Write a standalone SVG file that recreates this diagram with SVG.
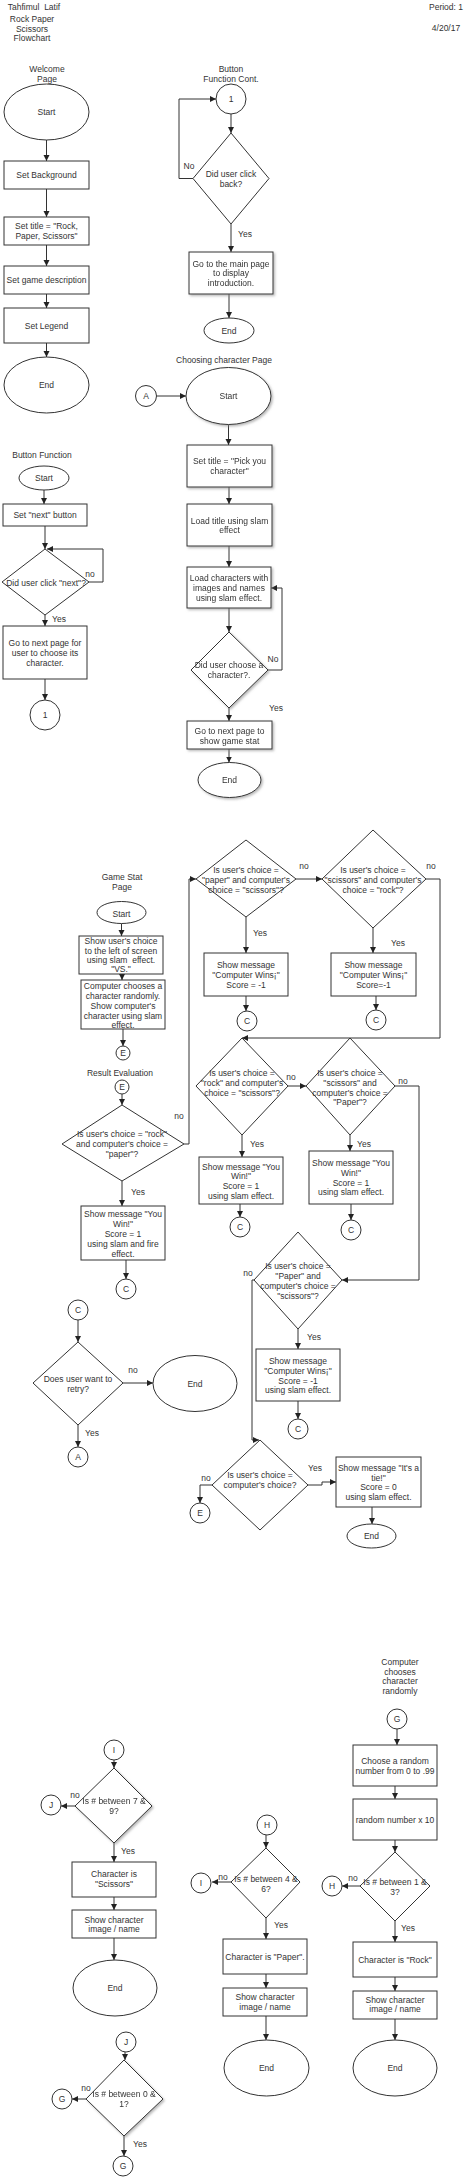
<svg xmlns="http://www.w3.org/2000/svg" width="474" height="2177" viewBox="0 0 474 2177">
<style>
text{font-family:"Liberation Sans",Arial,sans-serif;font-size:8.5px;fill:#333;text-anchor:middle;dominant-baseline:central;white-space:pre}
rect,ellipse,circle,polygon{fill:#fff;stroke:#333;stroke-width:1}
.sh{filter:url(#sh)}
.c path{fill:none;stroke:#333;stroke-width:1;marker-end:url(#ah)}
.c path.nm{marker-end:none}
</style>
<defs>
<marker id="ah" markerUnits="userSpaceOnUse" markerWidth="7" markerHeight="7" refX="6" refY="3" orient="auto"><path d="M0,0 L6,3 L0,6 z" fill="#222"/></marker>
<filter id="sh" x="-10%" y="-10%" width="130%" height="130%"><feDropShadow dx="1.5" dy="1.5" stdDeviation="0.8" flood-color="#888" flood-opacity="0.6"/></filter>
</defs>
<rect width="474" height="2177" style="fill:#fff;stroke:none"/>

<g id="header">
<text x="34" y="7">Tahfimul  Latif</text>
<text x="32" y="19">Rock Paper</text>
<text x="32" y="29">Scissors</text>
<text x="32" y="38">Flowchart</text>
<text x="446" y="7">Period: 1</text>
<text x="446" y="28">4/20/17</text>
</g>

<g id="titles">
<text x="47" y="69">Welcome</text><text x="47" y="79">Page</text>
<text x="231" y="69">Button</text><text x="231" y="79">Function Cont.</text>
<text x="224" y="360">Choosing character Page</text>
<text x="42" y="455">Button Function</text>
<text x="122" y="877">Game Stat</text><text x="122" y="887">Page</text>
<text x="120" y="1073">Result Evaluation</text>
<text x="400" y="1662">Computer</text><text x="400" y="1672">chooses</text><text x="400" y="1681">character</text><text x="400" y="1691">randomly</text>
</g>

<g class="c" id="connectors">
<path d="M46.5,140 V161"/><path d="M46.5,189 V217"/><path d="M46.5,245 V266"/><path d="M46.5,294 V308"/><path d="M46.5,343 V357"/>
<path d="M231,114 V133"/><path d="M193,178.5 H179 V99 H216"/><path d="M231,224 V252"/><path d="M229,294 V318"/>
<path d="M156.5,396 H186"/><path d="M228.5,424.5 V445"/><path d="M229,487 V504"/><path d="M229,546 V567"/><path d="M229,608 V632"/><path d="M268,670 H282 V588 H271"/><path d="M229,708 V721"/><path d="M229,749 V762.5"/>
<path d="M44,490 V504"/><path d="M45,526 V549"/><path d="M89,582 H103 V549 H47"/><path d="M45,615 V626"/><path d="M45,679 V700"/>
<path d="M121.5,923.5 V936"/><path d="M122,974 V980"/><path d="M123,1029 V1046"/><path d="M122,1094 V1105"/><path d="M122,1181 V1206"/><path d="M126,1260 V1279"/>
<path d="M184,1144 H189 V879 H196"/>
<path d="M296,879 H322"/><path d="M426,879 H440 V1038 H242"/>
<path d="M246,917 V953"/><path d="M246,996 V1011"/><path d="M373,928 V953"/><path d="M376,996 V1010"/>
<path d="M288,1086 H306"/><path d="M395,1086 H419 V1280 H342"/>
<path d="M242,1135 V1157"/><path d="M240,1204 V1217"/><path d="M350,1135 V1151"/><path d="M351,1204 V1220"/>
<path d="M298,1329 V1349"/><path d="M298,1401 V1419"/><path d="M254,1280 H252 V1440 H259"/>
<path d="M212,1485 H200 V1503"/><path d="M308,1485 H322 V1482 H336"/><path d="M372,1507 V1524"/>
<path d="M78,1320 V1342"/><path d="M123,1383 H153"/><path d="M78,1425 V1447"/>
<path d="M397,1729 V1745"/><path d="M395,1786 V1799"/><path d="M395,1840 V1852"/><path d="M360,1886 H342"/><path d="M395,1921 V1942"/><path d="M395,1977 V1991"/><path d="M395,2019 V2040"/>
<path d="M266,1835 V1848"/><path d="M231,1882 H212"/><path d="M266,1918 V1939"/><path d="M266,1974 V1988"/><path d="M266,2016 V2040"/>
<path d="M114,1760 V1768"/><path d="M75,1806 H61"/><path d="M114,1843 V1862"/><path d="M114,1897 V1910"/><path d="M114,1938 V1960"/>
<path d="M125,2052 V2060"/><path d="M86,2099 H72"/><path d="M124,2136 V2156"/>
</g>

<g id="edge-labels">
<text x="189" y="166">No</text><text x="245" y="234">Yes</text>
<text x="273" y="659">No</text><text x="276" y="708">Yes</text>
<text x="90" y="574">no</text><text x="59" y="619">Yes</text>
<text x="138" y="1192">Yes</text><text x="179" y="1116">no</text>
<text x="304" y="866">no</text><text x="431" y="866">no</text>
<text x="260" y="933">Yes</text><text x="398" y="943">Yes</text>
<text x="291" y="1077">no</text><text x="403" y="1081">no</text>
<text x="257" y="1144">Yes</text><text x="364" y="1144">Yes</text>
<text x="314" y="1337">Yes</text><text x="248" y="1273">no</text>
<text x="206" y="1478">no</text><text x="315" y="1468">Yes</text>
<text x="133" y="1370">no</text><text x="92" y="1433">Yes</text>
<text x="353" y="1878">no</text><text x="408" y="1928">Yes</text>
<text x="223" y="1877">no</text><text x="281" y="1925">Yes</text>
<text x="75" y="1795">no</text><text x="128" y="1851">Yes</text>
<text x="86" y="2088">no</text><text x="140" y="2144">Yes</text>
</g>

<g id="welcome-start"><ellipse cx="46.5" cy="112" rx="42.5" ry="28"/><text x="46.5" y="112">Start</text></g>
<g id="set-background"><rect x="4" y="161" width="85" height="28"/><text x="46.5" y="175">Set Background</text></g>
<g id="set-title"><rect x="4" y="217" width="85" height="28"/><text x="46.5" y="226">Set title = "Rock,</text><text x="46.5" y="236">Paper, Scissors"</text></g>
<g id="set-desc"><rect x="4" y="266" width="85" height="28"/><text x="46.5" y="280">Set game description</text></g>
<g id="set-legend"><rect x="4" y="308" width="85" height="35"/><text x="46.5" y="326">Set Legend</text></g>
<g id="welcome-end"><ellipse cx="46.5" cy="385" rx="42.5" ry="28"/><text x="46.5" y="385">End</text></g>

<g id="bfc-1"><circle cx="231" cy="99" r="15"/><text x="231" y="99">1</text></g>
<g id="bfc-dec"><polygon points="231,133 269,178.5 231,224 193,178.5"/><text x="231" y="174">Did user click</text><text x="231" y="184">back?</text></g>
<g id="bfc-main" class="sh"><rect x="189" y="252" width="84" height="42"/><text x="231" y="264">Go to the main page</text><text x="231" y="273">to display</text><text x="231" y="283">introduction.</text></g>
<g id="bfc-end"><ellipse cx="229" cy="330.5" rx="25" ry="12.5"/><text x="229" y="330.5">End</text></g>

<g id="cc-a"><circle cx="146" cy="396" r="10.5"/><text x="146" y="396">A</text></g>
<g id="cc-start" class="sh"><ellipse cx="228.5" cy="396" rx="42.5" ry="28.5"/><text x="228.5" y="396">Start</text></g>
<g id="cc-title" class="sh"><rect x="187" y="445" width="85" height="42"/><text x="229.5" y="461">Set title = "Pick you</text><text x="229.5" y="471">character"</text></g>
<g id="cc-load" class="sh"><rect x="187" y="504" width="85" height="42"/><text x="229.5" y="521">Load title using slam</text><text x="229.5" y="530">effect</text></g>
<g id="cc-chars" class="sh"><rect x="187" y="567" width="84" height="41"/><text x="229" y="578">Load characters with</text><text x="229" y="588">images and names</text><text x="229" y="598">using slam effect.</text></g>
<g id="cc-dec" class="sh"><polygon points="229,632 268,670 229,708 191,670"/><text x="229" y="665">Did user choose a</text><text x="229" y="675">character?.</text></g>
<g id="cc-next" class="sh"><rect x="187" y="721" width="85" height="28"/><text x="229.5" y="731">Go to next page to</text><text x="229.5" y="741">show game stat</text></g>
<g id="cc-end" class="sh"><ellipse cx="229.5" cy="780" rx="31.5" ry="17.5"/><text x="229.5" y="780">End</text></g>

<g id="bf-start"><ellipse cx="44" cy="478" rx="25" ry="12"/><text x="44" y="478">Start</text></g>
<g id="bf-set"><rect x="3" y="504" width="84" height="22"/><text x="45" y="515">Set "next" button</text></g>
<g id="bf-dec"><polygon points="45,549 89,582 45,615 2,582"/><text x="46" y="583">Did user click "next"?</text></g>
<g id="bf-next"><rect x="3" y="626" width="84" height="53"/><text x="45" y="643">Go to next page for</text><text x="45" y="653">user to choose its</text><text x="45" y="663">character.</text></g>
<g id="bf-1"><circle cx="45" cy="715" r="15"/><text x="45" y="715">1</text></g>

<g id="gs-start"><ellipse cx="121.5" cy="912.5" rx="24.5" ry="11"/><text x="121.5" y="914">Start</text></g>
<g id="gs-user"><rect x="79" y="936" width="84" height="38"/><text x="121" y="941">Show user's choice</text><text x="121" y="951">to the left of screen</text><text x="121" y="960">using slam  effect.</text><text x="121" y="969">"VS."</text></g>
<g id="gs-comp"><rect x="81" y="980" width="84" height="49"/><text x="123" y="986">Computer chooses a</text><text x="123" y="996">character randomly.</text><text x="123" y="1006">Show computer's</text><text x="123" y="1016">character using slam</text><text x="123" y="1025">effect.</text></g>
<g id="gs-e1"><circle cx="123" cy="1053" r="7"/><text x="123" y="1053">E</text></g>
<g id="re-e"><circle cx="122" cy="1087" r="7"/><text x="122" y="1087">E</text></g>
<g id="re-rock"><polygon points="122,1105 184,1144 122,1181 62,1144"/><text x="122" y="1134">Is user's choice = "rock"</text><text x="122" y="1144">and computer's choice =</text><text x="122" y="1154">"paper"?</text></g>
<g id="re-rock-win"><rect x="81" y="1206" width="84" height="54"/><text x="123" y="1214">Show message "You</text><text x="123" y="1224">Win!"</text><text x="123" y="1234">Score = 1</text><text x="123" y="1244">using slam and fire</text><text x="123" y="1254">effect.</text></g>
<g id="re-c1"><circle cx="126" cy="1289" r="10"/><text x="126" y="1289">C</text></g>

<g id="re-paper"><polygon points="246,840 296,879 246,917 196,879"/><text x="246" y="870">Is user's choice =</text><text x="246" y="880">"paper" and computer's</text><text x="246" y="890">choice = "scissors"?</text></g>
<g id="re-scis"><polygon points="373,830 426,879 373,928 322,879"/><text x="373" y="870">Is user's choice =</text><text x="373" y="880">"scissors" and computer's</text><text x="373" y="890">choice = "rock"?</text></g>
<g id="re-paper-lose"><rect x="204" y="953" width="84" height="43"/><text x="246" y="965">Show message</text><text x="246" y="975">"Computer Wins¡"</text><text x="246" y="985">Score = -1</text></g>
<g id="re-c2"><circle cx="247" cy="1021" r="10"/><text x="247" y="1021">C</text></g>
<g id="re-scis-lose"><rect x="331" y="953" width="85" height="43"/><text x="373.5" y="965">Show message</text><text x="373.5" y="975">"Computer Wins¡"</text><text x="373.5" y="985">Score=-1</text></g>
<g id="re-c3"><circle cx="376" cy="1020" r="10"/><text x="376" y="1020">C</text></g>

<g id="re-rock2"><polygon points="242,1038 288,1086 242,1135 196,1086"/><text x="242" y="1073">Is user's choice =</text><text x="242" y="1083">"rock" and computer's</text><text x="242" y="1093">choice = "scissors"?</text></g>
<g id="re-scis2"><polygon points="350,1038 395,1086 350,1135 306,1086"/><text x="350" y="1073">Is user's choice =</text><text x="350" y="1083">"scissors" and</text><text x="350" y="1093">computer's choice =</text><text x="350" y="1102">"Paper"?</text></g>
<g id="re-rock2-win"><rect x="199" y="1157" width="84" height="47"/><text x="241" y="1167">Show message "You</text><text x="241" y="1176">Win!"</text><text x="241" y="1186">Score = 1</text><text x="241" y="1196">using slam effect.</text></g>
<g id="re-c4"><circle cx="240" cy="1227" r="10"/><text x="240" y="1227">C</text></g>
<g id="re-scis2-win"><rect x="309" y="1151" width="84" height="53"/><text x="351" y="1163">Show message "You</text><text x="351" y="1173">Win!"</text><text x="351" y="1183">Score = 1</text><text x="351" y="1192">using slam effect.</text></g>
<g id="re-c5"><circle cx="351" cy="1230" r="10"/><text x="351" y="1230">C</text></g>

<g id="re-paper2"><polygon points="298,1232 342,1280 298,1329 254,1280"/><text x="298" y="1266">Is user's choice =</text><text x="298" y="1276">"Paper" and</text><text x="298" y="1286">computer's choice =</text><text x="298" y="1296">"scissors"?</text></g>
<g id="re-paper2-lose"><rect x="256" y="1349" width="84" height="52"/><text x="298" y="1361">Show message</text><text x="298" y="1371">"Computer Wins¡"</text><text x="298" y="1381">Score = -1</text><text x="298" y="1390">using slam effect.</text></g>
<g id="re-c6"><circle cx="298" cy="1429" r="10"/><text x="298" y="1429">C</text></g>

<g id="re-tie-dec"><polygon points="260,1440 308,1485 260,1530 212,1485"/><text x="260" y="1475">Is user's choice =</text><text x="260" y="1485">computer's choice?</text></g>
<g id="re-e2"><circle cx="200" cy="1513" r="10"/><text x="200" y="1513">E</text></g>
<g id="re-tie"><rect x="336" y="1457" width="85" height="50"/><text x="378.5" y="1468">Show message "It's a</text><text x="378.5" y="1478">tie!"</text><text x="378.5" y="1487">Score = 0</text><text x="378.5" y="1497">using slam effect.</text></g>
<g id="re-tie-end"><ellipse cx="371.5" cy="1536" rx="24.5" ry="12"/><text x="371.5" y="1536">End</text></g>

<g id="retry-c"><circle cx="78" cy="1310" r="10"/><text x="78" y="1310">C</text></g>
<g id="retry-dec"><polygon points="78,1342 123,1383 78,1425 33,1383"/><text x="78" y="1379">Does user want to</text><text x="78" y="1389">retry?</text></g>
<g id="retry-end"><ellipse cx="195" cy="1383.5" rx="42" ry="28"/><text x="195" y="1383.5">End</text></g>
<g id="retry-a"><circle cx="78" cy="1457" r="10"/><text x="78" y="1457">A</text></g>

<g id="rnd-g"><circle cx="397" cy="1719" r="10"/><text x="397" y="1719">G</text></g>
<g id="rnd-choose"><rect x="353" y="1745" width="84" height="41"/><text x="395" y="1761">Choose a random</text><text x="395" y="1771">number from 0 to .99</text></g>
<g id="rnd-x10"><rect x="353" y="1799" width="84" height="41"/><text x="395" y="1820">random number x 10</text></g>
<g id="rnd-dec13"><polygon points="395,1852 430,1886 395,1921 360,1886"/><text x="395" y="1882">Is # between 1 &amp;</text><text x="395" y="1892">3?</text></g>
<g id="rnd-h"><circle cx="332" cy="1886" r="10"/><text x="332" y="1886">H</text></g>
<g id="rnd-rock"><rect x="353" y="1942" width="84" height="35"/><text x="395" y="1960">Character is "Rock"</text></g>
<g id="rnd-rock-show"><rect x="353" y="1991" width="84" height="28"/><text x="395" y="2000">Show character</text><text x="395" y="2009">image / name</text></g>
<g id="rnd-rock-end"><ellipse cx="395" cy="2068" rx="42" ry="28"/><text x="395" y="2068">End</text></g>

<g id="h-h"><circle cx="267" cy="1825" r="10"/><text x="267" y="1825">H</text></g>
<g id="h-dec"><polygon points="266,1848 300,1882 266,1918 231,1882"/><text x="266" y="1879">Is # between 4 &amp;</text><text x="266" y="1889">6?</text></g>
<g id="h-i"><circle cx="201" cy="1883" r="10"/><text x="201" y="1883">I</text></g>
<g id="h-paper"><rect x="223" y="1939" width="84" height="35"/><text x="265" y="1957">Character is "Paper".</text></g>
<g id="h-show"><rect x="223" y="1988" width="84" height="28"/><text x="265" y="1997">Show character</text><text x="265" y="2007">image / name</text></g>
<g id="h-end"><ellipse cx="266.5" cy="2068" rx="42.5" ry="28"/><text x="266.5" y="2068">End</text></g>

<g id="i-i"><circle cx="114" cy="1750" r="10"/><text x="114" y="1750">I</text></g>
<g id="i-dec" class="sh"><polygon points="114,1768 152,1806 114,1843 75,1806"/><text x="114" y="1801">Is # between 7 &amp;</text><text x="114" y="1811">9?</text></g>
<g id="i-j"><circle cx="51" cy="1805" r="10"/><text x="51" y="1805">J</text></g>
<g id="i-scis"><rect x="72" y="1862" width="84" height="35"/><text x="114" y="1874">Character is</text><text x="114" y="1884">"Scissors"</text></g>
<g id="i-show"><rect x="72" y="1910" width="84" height="28"/><text x="114" y="1920">Show character</text><text x="114" y="1929">image / name</text></g>
<g id="i-end"><ellipse cx="115" cy="1988" rx="42" ry="28"/><text x="115" y="1988">End</text></g>

<g id="j-j"><circle cx="126" cy="2042" r="10"/><text x="126" y="2042">J</text></g>
<g id="j-dec" class="sh"><polygon points="124,2060 163,2099 124,2136 86,2099"/><text x="124" y="2094">Is # between 0 &amp;</text><text x="124" y="2104">1?</text></g>
<g id="j-g1"><circle cx="62" cy="2099" r="10"/><text x="62" y="2099">G</text></g>
<g id="j-g2"><circle cx="123" cy="2166" r="10"/><text x="123" y="2166">G</text></g>
</svg>
